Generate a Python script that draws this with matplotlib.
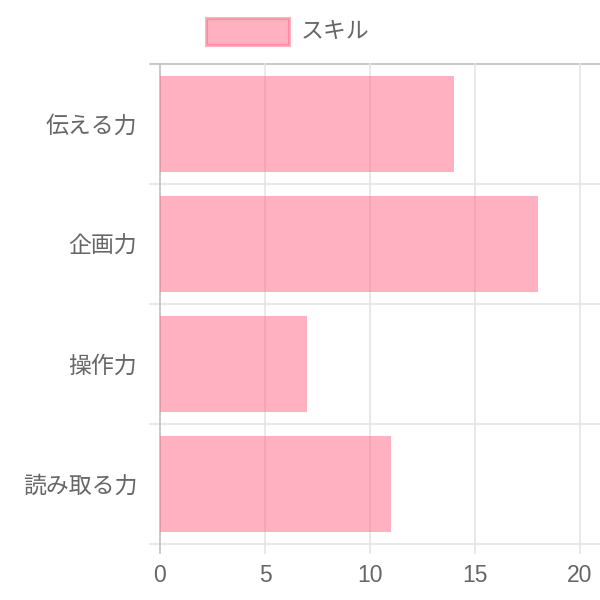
"""Horizontal skill bar chart (Chart.js look)."""

import matplotlib
matplotlib.use("Agg")
import matplotlib.pyplot as plt
from matplotlib.patches import Rectangle

plt.rcParams["font.family"] = ["Noto Sans CJK JP", "DejaVu Sans"]

categories = ["伝える力", "企画力", "操作力", "読み取る力"]
values = [14, 18, 7, 11]
x_ticks = [0, 5, 10, 15, 20]
legend_label = "スキル"

BAR_FILL = (1.0, 99 / 255, 132 / 255, 0.5)
BAR_EDGE = (1.0, 99 / 255, 132 / 255, 0.5)
GRID = "#e5e5e5"
ZERO = "#bfbfbf"
TEXT = "#666666"
FS = 16.5

W = H = 600
fig = plt.figure(figsize=(6, 6), dpi=100)
ax = fig.add_axes([160 / W, 1 - 544 / H, 440 / W, 480 / H])

n = len(categories)
xmax = 440 / 21.0
ax.set_xlim(0, xmax)
ax.set_ylim(n - 0.5, -0.5)

# category grid lines (between categories, extending left as tick marks)
for b in [i - 0.5 for i in range(n + 1)]:
    c = ZERO if b == -0.5 else GRID
    ax.plot([-10 / 21, xmax], [b, b], color=c, lw=1.2, clip_on=False, zorder=1)

# value grid lines (extending down as tick marks)
for t in x_ticks:
    c = ZERO if t == 0 else GRID
    ax.plot([t, t], [-0.5, n - 0.5 + 9 / 120], color=c, lw=1.2,
            clip_on=False, zorder=1)

ax.barh(range(n), values, height=0.8, color=BAR_FILL, zorder=2)

ax.set_yticks(range(n))
ax.set_yticklabels(categories)
ax.set_xticks(x_ticks)
ax.set_xticklabels([str(t) for t in x_ticks], family=["Liberation Sans"])
ax.tick_params(axis="y", length=0, pad=16.5, labelsize=FS, labelcolor=TEXT)
ax.tick_params(axis="x", length=0, pad=14.5, labelsize=FS, labelcolor=TEXT)
for s in ax.spines.values():
    s.set_visible(False)

# legend
fig.patches.append(Rectangle((206 / W, 1 - 45 / H), 83 / W, 27 / H,
                             transform=fig.transFigure, facecolor=BAR_FILL,
                             edgecolor=BAR_EDGE, lw=2.2))
fig.text(301 / W, 1 - 31 / H, legend_label, ha="left", va="center",
         fontsize=FS, color=TEXT)

fig.savefig("out.png", dpi=100, facecolor="white")
